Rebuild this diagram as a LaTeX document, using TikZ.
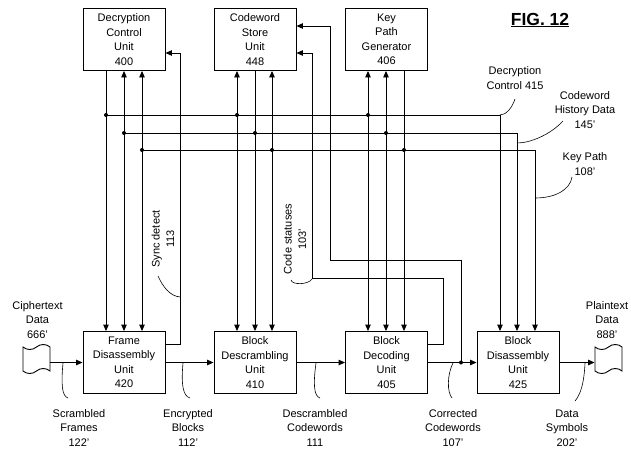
\documentclass[tikz,border=0pt]{standalone}
\usepackage{fontspec}
\setmainfont{Liberation Sans}
\usetikzlibrary{shapes.symbols}
\usetikzlibrary{arrows.meta}
\newcommand{\txtsize}{\fontsize{11}{14.5}\selectfont}

\begin{document}
\begin{tikzpicture}[x=1pt,y=-1pt,line width=0.9pt,
  unit/.style={draw,minimum width=82pt,minimum height=62pt,inner sep=0pt,align=center,font=\txtsize},
  lbl/.style={align=center,inner sep=0pt,font=\txtsize},
  tapebox/.style={draw,shape=tape,minimum width=27pt,minimum height=29pt,inner sep=0pt,tape bend height=5pt},
  flow/.style={-{Triangle[length=6.5pt,width=5.5pt]}},
  leader/.style={line width=0.6pt}]
\useasboundingbox (0,0) rectangle (631,448);
\node[unit] (dcu) at (124,39.5) {Decryption\\Control\\Unit\\400}; %top units
\node[unit] (csu) at (255,39.5) {Codeword\\Store\\Unit\\448};
\node[unit] (kpg) at (386.5,39.5) {Key\\Path\\Generator\\406};
\node[unit] (fdu) at (124,362.5) {Frame\\Disassembly\\Unit\\420}; %pipeline
\node[unit] (bsu) at (255,362.5) {Block\\Descrambling\\Unit\\410};
\node[unit] (bdu) at (386.5,362.5) {Block\\Decoding\\Unit\\405};
\node[unit] (bau) at (518,362.5) {Block\\Disassembly\\Unit\\425};
\node[tapebox] (cin) at (36.5,359) {};
\node[tapebox] (pout) at (608.5,359) {};
\draw[flow] (cin.east |- fdu.west) -- (fdu.west);
\draw[flow] (fdu) -- (bsu);
\draw[flow] (bsu) -- (bdu);
\draw[flow] (bdu) -- (bau);
\draw[flow] (bau.east) -- (bau.east -| pout.west);
\coordinate (dA1) at (106,115); %decryption control bus
\coordinate (dA2) at (237,115);
\coordinate (dA3) at (368,115);
\coordinate (dA4) at (500,115);
\draw (dA1) -- (dA4);
\draw[flow] (dA1 |- dcu.south) -- (dA1 |- fdu.north);
\draw[flow] (dA2) -- (dA2 |- csu.south);
\draw[flow] (dA2) -- (dA2 |- bsu.north);
\draw[flow] (dA3) -- (dA3 |- kpg.south);
\draw[flow] (dA3) -- (dA3 |- bdu.north);
\draw[flow] (dA4) -- (dA4 |- bau.north);
\coordinate (dB1) at (124,133); %codeword history bus
\coordinate (dB2) at (255,133);
\coordinate (dB3) at (386,133);
\coordinate (dB4) at (517,133);
\draw (dB1) -- (dB4);
\draw[flow] (dB1) -- (dB1 |- dcu.south);
\draw[flow] (dB1) -- (dB1 |- fdu.north);
\draw[flow] (dB2 |- csu.south) -- (dB2 |- bsu.north);
\draw[flow] (dB3) -- (dB3 |- kpg.south);
\draw[flow] (dB3) -- (dB3 |- bdu.north);
\draw[flow] (dB4) -- (dB4 |- bau.north);
\coordinate (dC1) at (142,150); %key path bus
\coordinate (dC2) at (272,150);
\coordinate (dC3) at (404,150);
\coordinate (dC4) at (535,150);
\draw (dC1) -- (dC4);
\draw[flow] (dC1) -- (dC1 |- dcu.south);
\draw[flow] (dC1) -- (dC1 |- fdu.north);
\draw[flow] (dC2) -- (dC2 |- csu.south);
\draw[flow] (dC2) -- (dC2 |- bsu.north);
\draw[flow] (dC3 |- kpg.south) -- (dC3 |- bdu.north);
\draw[flow] (dC4) -- (dC4 |- bau.north);
\foreach \p in {dA1,dA2,dA3,dB1,dB2,dB3,dC1,dC2,dC3}
  \fill (\p) circle (2pt);
\coordinate (sync) at (180,344); %sync detect
\coordinate (synct) at (180,53);
\draw[flow] (sync -| fdu.east) -- (sync) -- (synct) -- (synct -| dcu.east);
\coordinate (cs1) at (443,344); %code statuses
\coordinate (cs2) at (443,278);
\coordinate (cs3) at (312,278);
\coordinate (cs4) at (312,53);
\draw[flow] (cs1 -| bdu.east) -- (cs1) -- (cs2) -- (cs3) -- (cs4) -- (cs4 -| csu.east);
\coordinate (cw1) at (461,362.5); %corrected codewords
\coordinate (cw2) at (461,260);
\coordinate (cw3) at (330,260);
\coordinate (cw4) at (330,26);
\draw[flow] (cw1) -- (cw2) -- (cw3) -- (cw4) -- (cw4 -| csu.east);
\fill (cw1) circle (2pt);
\node[lbl] (ctxt) at (37.5,320) {Ciphertext\\Data\\666'}; %labels
\node[lbl] (ptxt) at (607,320) {Plaintext\\Data\\888'};
\node[lbl] (sfr) at (79,428) {Scrambled\\Frames\\122'};
\node[lbl] (ebl) at (188,428) {Encrypted\\Blocks\\112'};
\node[lbl] (dcw) at (315,428) {Descrambled\\Codewords\\111};
\node[lbl] (ccw) at (453,428) {Corrected\\Codewords\\107'};
\node[lbl] (dsy) at (567,428) {Data\\Symbols\\202'};
\node[lbl] (dcl) at (515,78) {Decryption\\Control 415};
\node[lbl] (chd) at (585,110) {Codeword\\History Data\\145'};
\node[lbl] (kpl) at (585,164) {Key Path\\108'};
\node[lbl,rotate=90] (syl) at (163,239) {Sync detect\\113};
\node[lbl,rotate=90] (csl) at (295,239) {Code statuses\\103'};
\node[inner sep=0pt,font=\fontsize{17.5}{19}\selectfont\bfseries] (fig) at (540,20) {\underline{FIG. 12}};
\draw[leader] (63,363) .. controls (61,385) and (62,396) .. (68,398); %leaders
\draw[leader] (183,363) .. controls (181,385) and (183,396) .. (190,398);
\draw[leader] (316,363) .. controls (313,385) and (314,396) .. (320,398);
\draw[leader] (453,363) .. controls (447,375) and (447,392) .. (452,398);
\draw[leader] (585,363) .. controls (584,385) and (580,395) .. (575,401);
\draw[leader] (515,99) .. controls (512,108) and (506,115) .. (500,115);
\draw[leader] (563,121) .. controls (550,135) and (530,143) .. (517,143);
\draw[leader] (572,177) .. controls (570,190) and (555,198) .. (535,198);
\draw[leader] (158,276) .. controls (163,287) and (170,296) .. (180,297);
\draw[leader] (291,280) .. controls (292,285) and (308,285) .. (312,279);
\end{tikzpicture}
\end{document}
